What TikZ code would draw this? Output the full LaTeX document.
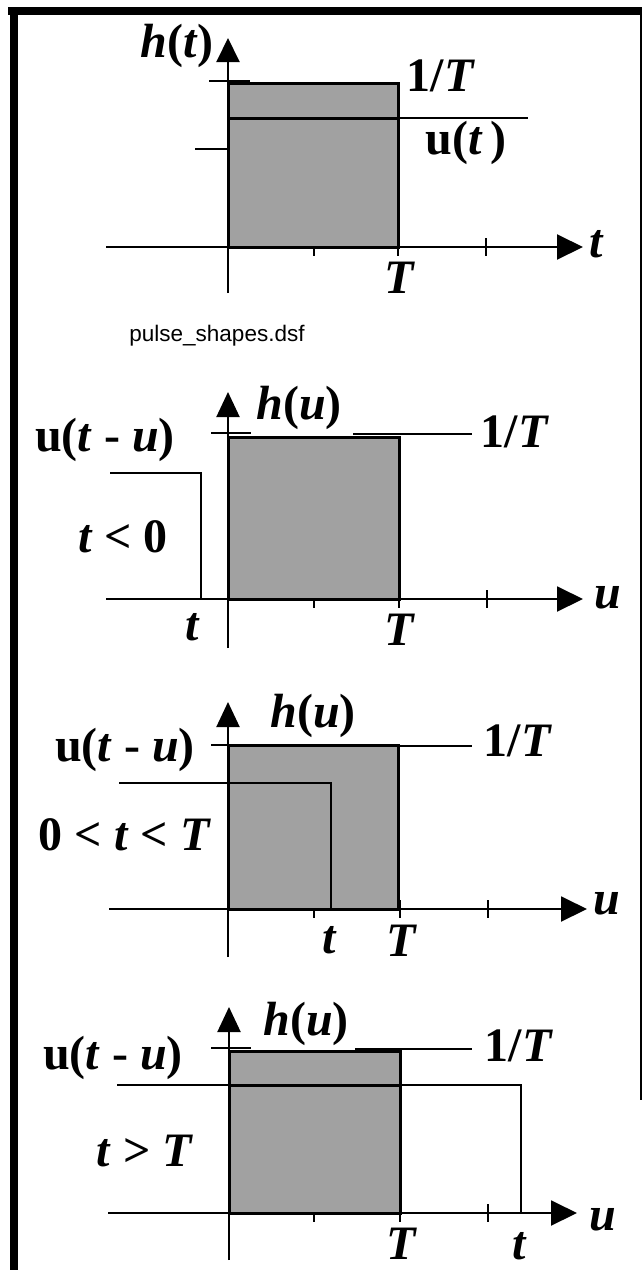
\documentclass[tikz,border=0pt]{standalone}
\usepackage{fontspec}
\setmainfont{Liberation Serif}
\newfontfamily\arialfont{Liberation Sans}
\usetikzlibrary{arrows.meta}
\definecolor{pulsegray}{gray}{0.63}
\tikzset{
  lbl/.style={inner sep=0pt, font=\fontsize{48}{52}\selectfont\bfseries},
  axisline/.style={line width=2pt, -{Triangle[length=26pt,width=25pt]}},
  yaxisline/.style={line width=2pt, -{Triangle[length=25pt,width=23pt]}},
  pulsebox/.style={fill=pulsegray, draw=black, line width=3pt},
  thinline/.style={line width=1.2pt},
  stepline/.style={line width=2.2pt},
  tickline/.style={line width=1.3pt},
}
\newcommand{\vi}[1]{\textit{#1}}
\begin{document}
\begin{tikzpicture}[x=1pt,y=-1pt]
\useasboundingbox (0,0) rectangle (644,1270);
% frame
\draw[line width=8pt] (8,11) -- (641,11);
\draw[line width=8pt] (14,7) -- (14,1270);
\draw[line width=1.5pt] (641,7) -- (641,1100);

% ---------- panel 1 ----------
\draw[pulsebox] (228,83) rectangle (398,247);
\draw[line width=3pt] (228,118) -- (398,118);
\draw[thinline] (398,118) -- (528,118);
\draw[tickline] (209,81) -- (250,81);
\draw[tickline] (195,149) -- (228,149);
\draw[line width=2pt, -{Triangle[length=24pt,width=23pt]}] (228,293) -- (228,38);
\draw[axisline] (106,247) -- (583,247);
\draw[tickline] (314,247) -- (314,256);
\draw[tickline] (398,247) -- (398,256);
\draw[tickline] (486,238) -- (486,256);
\node[lbl] (h1) at (177,46) {\vi{h}(\vi{t})};
\node[lbl] (o1) at (441,76) {1/\vi{T}};
\node[lbl] (u1) at (466,143) {u(\vi{t}\,)};
\node[lbl] (t1) at (597,244) {\vi{t}};
\node[lbl] (T1) at (400,278) {\vi{T}};
\node[inner sep=0pt, font=\arialfont\fontsize{22.5}{26}\selectfont] (fn) at (217,336) {pulse\_shapes.dsf};

% ---------- panel 2 ----------
\draw[pulsebox] (228,437) rectangle (399,599);
\draw[tickline] (211,433) -- (251,433);
\draw[thinline] (353,434) -- (472,434);
\draw[stepline] (110,473) -- (201,473) -- (201,599);
\draw[yaxisline] (228,648) -- (228,392);
\draw[axisline] (106,599) -- (583,599);
\draw[tickline] (314,599) -- (314,608);
\draw[tickline] (399,599) -- (399,608);
\draw[tickline] (487,590) -- (487,608);
\node[lbl] (h2) at (299,408) {\vi{h}(\vi{u})};
\node[lbl] (l2) at (105,440) {u(\vi{t} - \vi{u})};
\node[lbl] (c2) at (123,537) {\vi{t} < 0};
\node[lbl] (o2) at (515,432) {1/\vi{T}};
\node[lbl] (x2) at (608,598) {\vi{u}};
\node[lbl] (t2) at (193,627) {\vi{t}};
\node[lbl] (T2) at (400,630) {\vi{T}};

% ---------- panel 3 ----------
\draw[pulsebox] (228,745) rectangle (398,909);
\draw[tickline] (211,745) -- (228,745);
\draw[thinline] (400,746) -- (472,746);
\draw[stepline] (119,783) -- (331,783) -- (331,909);
\draw[yaxisline] (228,957) -- (228,702);
\draw[axisline] (109,909) -- (587,909);
\draw[tickline] (314,909) -- (314,918);
\draw[tickline] (400,900) -- (400,918);
\draw[tickline] (488,900) -- (488,918);
\node[lbl] (h3) at (313,716) {\vi{h}(\vi{u})};
\node[lbl] (l3) at (125,750) {u(\vi{t} - \vi{u})};
\node[lbl] (c3) at (125,835) {0 < \vi{t} < \vi{T}};
\node[lbl] (o3) at (518,741) {1/\vi{T}};
\node[lbl] (x3) at (607,904) {\vi{u}};
\node[lbl] (t3) at (330,940) {\vi{t}};
\node[lbl] (T3) at (402,941) {\vi{T}};

% ---------- panel 4 ----------
\draw[pulsebox] (229,1051) rectangle (400,1213);
\draw[tickline] (211,1048) -- (251,1048);
\draw[thinline] (355,1049) -- (472,1049);
\draw[stepline] (117,1085) -- (521,1085) -- (521,1213);
\draw[line width=3pt] (229,1085) -- (400,1085);
\draw[yaxisline] (229,1260) -- (229,1007);
\draw[axisline] (108,1213) -- (577,1213);
\draw[tickline] (314,1213) -- (314,1222);
\draw[tickline] (400,1213) -- (400,1222);
\draw[tickline] (488,1204) -- (488,1222);
\node[lbl] (h4) at (306,1024) {\vi{h}(\vi{u})};
\node[lbl] (l4) at (113,1058) {u(\vi{t} - \vi{u})};
\node[lbl] (c4) at (145,1151) {\vi{t} > \vi{T}};
\node[lbl] (o4) at (519,1046) {1/\vi{T}};
\node[lbl] (x4) at (603,1220) {\vi{u}};
\node[lbl] (T4) at (402,1244) {\vi{T}};
\node[lbl] (t4) at (520,1246) {\vi{t}};
\end{tikzpicture}
\end{document}
